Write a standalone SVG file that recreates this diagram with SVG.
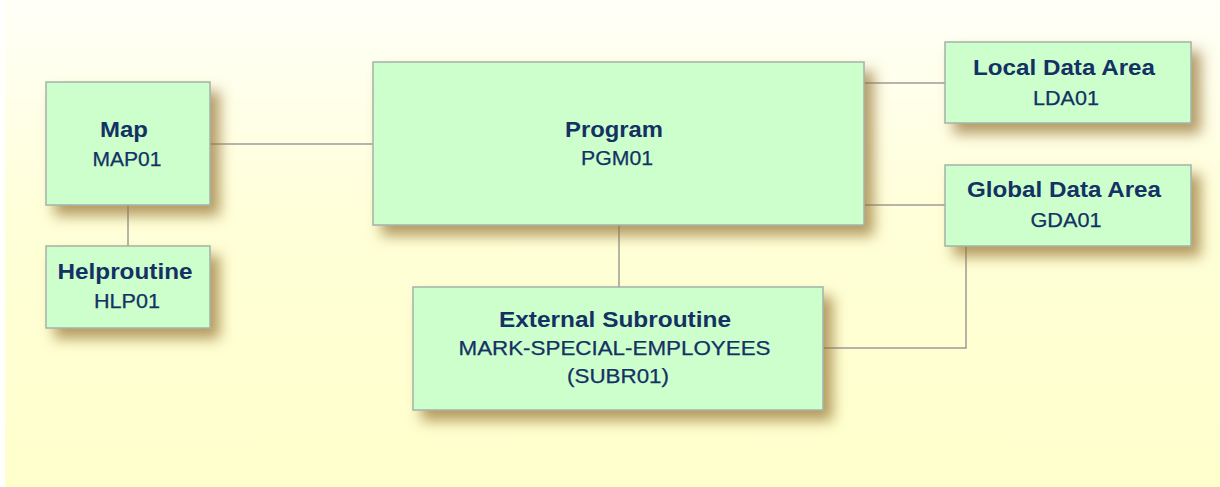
<svg xmlns="http://www.w3.org/2000/svg" width="1220" height="487" viewBox="0 0 1220 487">
<defs>
<linearGradient id="bg" x1="0" y1="0" x2="0" y2="1">
<stop offset="0" stop-color="#fffff8"/>
<stop offset="0.45" stop-color="#ffffd8"/>
<stop offset="1" stop-color="#ffffcc"/>
</linearGradient>
<filter id="sh" x="-20%" y="-20%" width="150%" height="160%">
<feDropShadow dx="9" dy="10" stdDeviation="7" flood-color="#94702e" flood-opacity="0.7"/>
</filter>
</defs>
<style>
.box{fill:#ccffcc;stroke:#a3b3a8;stroke-width:1.5;filter:url(#sh)}
.con{fill:none;stroke:#9c9c98;stroke-width:1.5}
.t{font-family:"Liberation Sans",Arial,sans-serif;font-weight:bold;font-size:22px;fill:#143164;text-anchor:middle}
.s{font-family:"Liberation Sans",Arial,sans-serif;font-size:19.5px;fill:#143164;text-anchor:middle;stroke:#143164;stroke-width:0.25}
</style>
<rect x="0" y="0" width="1220" height="487" fill="#fffffd"/>
<rect x="5" y="0" width="1215" height="487" fill="url(#bg)"/>
<g id="connectors">
<line class="con" x1="210" y1="144" x2="373" y2="144"/>
<line class="con" x1="128" y1="205" x2="128" y2="246"/>
<line class="con" x1="864" y1="83" x2="945" y2="83"/>
<line class="con" x1="864" y1="205" x2="945" y2="205"/>
<line class="con" x1="619" y1="225" x2="619" y2="287"/>
<polyline class="con" points="966,246 966,348 823,348"/>
</g>
<g id="map">
<rect class="box" x="46" y="82" width="164" height="123"/>
<text class="t" x="124" y="137" textLength="48" lengthAdjust="spacingAndGlyphs">Map</text>
<text class="s" x="127" y="166" textLength="69" lengthAdjust="spacingAndGlyphs">MAP01</text>
</g>
<g id="helproutine">
<rect class="box" x="46" y="246" width="164" height="82"/>
<text class="t" x="125" y="279" textLength="135" lengthAdjust="spacingAndGlyphs">Helproutine</text>
<text class="s" x="127" y="308" textLength="66" lengthAdjust="spacingAndGlyphs">HLP01</text>
</g>
<g id="program">
<rect class="box" x="373" y="62" width="491" height="163"/>
<text class="t" x="614" y="137" textLength="98" lengthAdjust="spacingAndGlyphs">Program</text>
<text class="s" x="617" y="165" textLength="72" lengthAdjust="spacingAndGlyphs">PGM01</text>
</g>
<g id="lda">
<rect class="box" x="945" y="42" width="246" height="81"/>
<text class="t" x="1064" y="75" textLength="182" lengthAdjust="spacingAndGlyphs">Local Data Area</text>
<text class="s" x="1066" y="105" textLength="66" lengthAdjust="spacingAndGlyphs">LDA01</text>
</g>
<g id="gda">
<rect class="box" x="945" y="165" width="246" height="81"/>
<text class="t" x="1064" y="197" textLength="194" lengthAdjust="spacingAndGlyphs">Global Data Area</text>
<text class="s" x="1066" y="227" textLength="71" lengthAdjust="spacingAndGlyphs">GDA01</text>
</g>
<g id="subroutine">
<rect class="box" x="413" y="287" width="410" height="123"/>
<text class="t" x="615" y="327" textLength="232" lengthAdjust="spacingAndGlyphs">External Subroutine</text>
<text class="s" x="614.5" y="355" textLength="312" lengthAdjust="spacingAndGlyphs">MARK-SPECIAL-EMPLOYEES</text>
<text class="s" x="618" y="383" textLength="102" lengthAdjust="spacingAndGlyphs">(SUBR01)</text>
</g>
</svg>
